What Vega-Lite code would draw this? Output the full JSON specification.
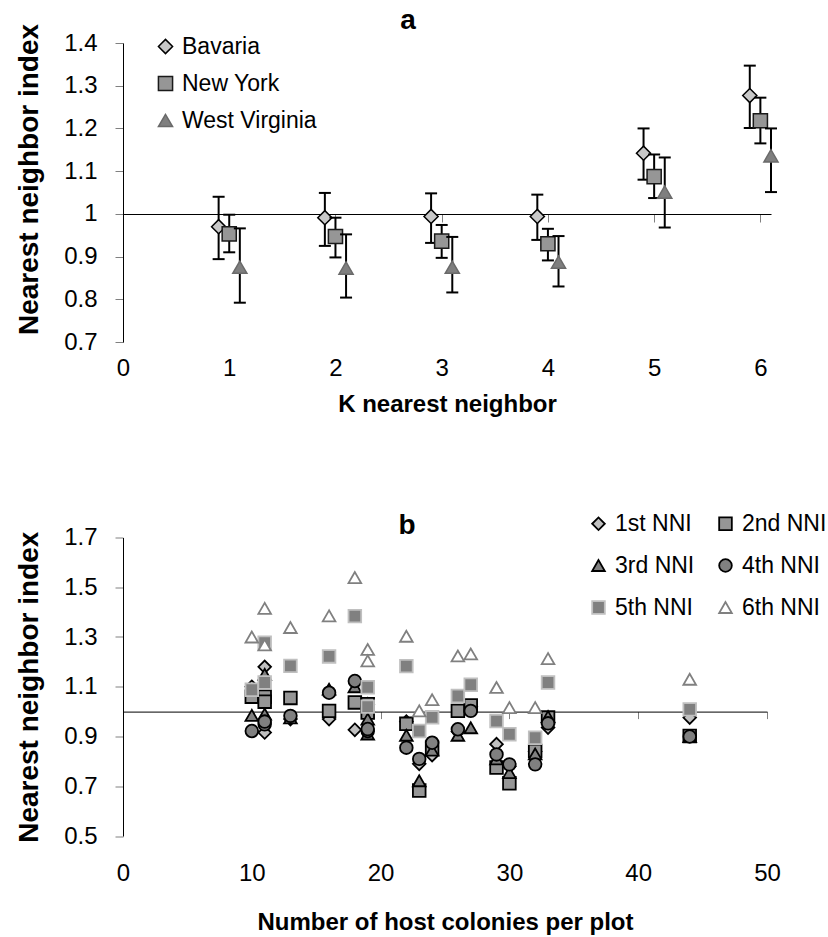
{
 "$schema": "https://vega.github.io/schema/vega-lite/v6.json",
 "background": "white",
 "padding": {"left": 15, "top": 6, "right": 0, "bottom": 0},
 "config": {
  "font": "Liberation Sans",
  "view": {"stroke": null},
  "axis": {"grid": false, "labelFont": "Liberation Sans", "titleFont": "Liberation Sans", "labelColor": "black", "titleColor": "black", "domainColor": "black", "tickColor": "#808080", "labelFontSize": 24, "titleFontSize": 24, "titleFontWeight": "bold", "labelFlush": false, "labelOverlap": false},
  "legend": {"labelFont": "Liberation Sans", "labelColor": "black"},
  "title": {"font": "Liberation Sans", "fontWeight": "bold", "fontSize": 28, "color": "black"}
 },
 "resolve": {"scale": {"shape": "independent", "fill": "independent", "stroke": "independent"}, "legend": {"shape": "independent", "fill": "independent", "stroke": "independent"}},
 "datasets": {
  "knn": [
   {"k": 1, "site": "Bavaria", "nni": 0.970, "lo": 0.894, "hi": 1.040},
   {"k": 1, "site": "New York", "nni": 0.953, "lo": 0.910, "hi": 0.998},
   {"k": 1, "site": "West Virginia", "nni": 0.875, "lo": 0.792, "hi": 0.966},
   {"k": 2, "site": "Bavaria", "nni": 0.991, "lo": 0.925, "hi": 1.049},
   {"k": 2, "site": "New York", "nni": 0.947, "lo": 0.898, "hi": 0.991},
   {"k": 2, "site": "West Virginia", "nni": 0.873, "lo": 0.804, "hi": 0.952},
   {"k": 3, "site": "Bavaria", "nni": 0.994, "lo": 0.932, "hi": 1.048},
   {"k": 3, "site": "New York", "nni": 0.936, "lo": 0.897, "hi": 0.974},
   {"k": 3, "site": "West Virginia", "nni": 0.875, "lo": 0.816, "hi": 0.946},
   {"k": 4, "site": "Bavaria", "nni": 0.994, "lo": 0.939, "hi": 1.045},
   {"k": 4, "site": "New York", "nni": 0.930, "lo": 0.891, "hi": 0.965},
   {"k": 4, "site": "West Virginia", "nni": 0.887, "lo": 0.830, "hi": 0.948},
   {"k": 5, "site": "Bavaria", "nni": 1.142, "lo": 1.080, "hi": 1.200},
   {"k": 5, "site": "New York", "nni": 1.087, "lo": 1.037, "hi": 1.139},
   {"k": 5, "site": "West Virginia", "nni": 1.051, "lo": 0.968, "hi": 1.132},
   {"k": 6, "site": "Bavaria", "nni": 1.277, "lo": 1.201, "hi": 1.347},
   {"k": 6, "site": "New York", "nni": 1.218, "lo": 1.165, "hi": 1.272},
   {"k": 6, "site": "West Virginia", "nni": 1.136, "lo": 1.051, "hi": 1.200}
  ],
  "plots": [
   {"colonies": 10, "order": "1st NNI", "nni": 1.10},
   {"colonies": 11, "order": "1st NNI", "nni": 1.18},
   {"colonies": 11, "order": "1st NNI", "nni": 0.916},
   {"colonies": 13, "order": "1st NNI", "nni": 0.97},
   {"colonies": 16, "order": "1st NNI", "nni": 0.97},
   {"colonies": 18, "order": "1st NNI", "nni": 0.927},
   {"colonies": 19, "order": "1st NNI", "nni": 1.03},
   {"colonies": 19, "order": "1st NNI", "nni": 1.0},
   {"colonies": 22, "order": "1st NNI", "nni": 0.96},
   {"colonies": 23, "order": "1st NNI", "nni": 0.79},
   {"colonies": 24, "order": "1st NNI", "nni": 0.825},
   {"colonies": 26, "order": "1st NNI", "nni": 0.92},
   {"colonies": 27, "order": "1st NNI", "nni": 1.02},
   {"colonies": 29, "order": "1st NNI", "nni": 0.869},
   {"colonies": 30, "order": "1st NNI", "nni": 0.78},
   {"colonies": 32, "order": "1st NNI", "nni": 0.84},
   {"colonies": 33, "order": "1st NNI", "nni": 0.936},
   {"colonies": 44, "order": "1st NNI", "nni": 0.976},
   {"colonies": 10, "order": "2nd NNI", "nni": 1.06},
   {"colonies": 11, "order": "2nd NNI", "nni": 1.06},
   {"colonies": 11, "order": "2nd NNI", "nni": 1.04},
   {"colonies": 13, "order": "2nd NNI", "nni": 1.055},
   {"colonies": 16, "order": "2nd NNI", "nni": 1.003},
   {"colonies": 18, "order": "2nd NNI", "nni": 1.037},
   {"colonies": 19, "order": "2nd NNI", "nni": 0.996},
   {"colonies": 19, "order": "2nd NNI", "nni": 1.03},
   {"colonies": 22, "order": "2nd NNI", "nni": 0.951},
   {"colonies": 23, "order": "2nd NNI", "nni": 0.683},
   {"colonies": 24, "order": "2nd NNI", "nni": 0.855},
   {"colonies": 26, "order": "2nd NNI", "nni": 1.003},
   {"colonies": 27, "order": "2nd NNI", "nni": 1.025},
   {"colonies": 29, "order": "2nd NNI", "nni": 0.775},
   {"colonies": 30, "order": "2nd NNI", "nni": 0.712},
   {"colonies": 32, "order": "2nd NNI", "nni": 0.842},
   {"colonies": 33, "order": "2nd NNI", "nni": 0.976},
   {"colonies": 44, "order": "2nd NNI", "nni": 0.902},
   {"colonies": 10, "order": "3rd NNI", "nni": 0.985},
   {"colonies": 11, "order": "3rd NNI", "nni": 1.15},
   {"colonies": 11, "order": "3rd NNI", "nni": 0.99},
   {"colonies": 13, "order": "3rd NNI", "nni": 0.975},
   {"colonies": 16, "order": "3rd NNI", "nni": 1.09},
   {"colonies": 18, "order": "3rd NNI", "nni": 1.10},
   {"colonies": 19, "order": "3rd NNI", "nni": 0.97},
   {"colonies": 19, "order": "3rd NNI", "nni": 0.91},
   {"colonies": 22, "order": "3rd NNI", "nni": 0.905},
   {"colonies": 23, "order": "3rd NNI", "nni": 0.722},
   {"colonies": 24, "order": "3rd NNI", "nni": 0.845},
   {"colonies": 26, "order": "3rd NNI", "nni": 0.905},
   {"colonies": 27, "order": "3rd NNI", "nni": 0.935},
   {"colonies": 29, "order": "3rd NNI", "nni": 0.81},
   {"colonies": 30, "order": "3rd NNI", "nni": 0.755},
   {"colonies": 32, "order": "3rd NNI", "nni": 0.83},
   {"colonies": 33, "order": "3rd NNI", "nni": 0.98},
   {"colonies": 44, "order": "3rd NNI", "nni": 0.9},
   {"colonies": 10, "order": "4th NNI", "nni": 0.922},
   {"colonies": 11, "order": "4th NNI", "nni": 0.949},
   {"colonies": 11, "order": "4th NNI", "nni": 0.96},
   {"colonies": 13, "order": "4th NNI", "nni": 0.983},
   {"colonies": 16, "order": "4th NNI", "nni": 1.076},
   {"colonies": 18, "order": "4th NNI", "nni": 1.123},
   {"colonies": 19, "order": "4th NNI", "nni": 0.922},
   {"colonies": 19, "order": "4th NNI", "nni": 0.93},
   {"colonies": 22, "order": "4th NNI", "nni": 0.855},
   {"colonies": 23, "order": "4th NNI", "nni": 0.81},
   {"colonies": 24, "order": "4th NNI", "nni": 0.875},
   {"colonies": 26, "order": "4th NNI", "nni": 0.929},
   {"colonies": 27, "order": "4th NNI", "nni": 1.003},
   {"colonies": 29, "order": "4th NNI", "nni": 0.828},
   {"colonies": 30, "order": "4th NNI", "nni": 0.788},
   {"colonies": 32, "order": "4th NNI", "nni": 0.788},
   {"colonies": 33, "order": "4th NNI", "nni": 0.953},
   {"colonies": 44, "order": "4th NNI", "nni": 0.90},
   {"colonies": 10, "order": "5th NNI", "nni": 1.088},
   {"colonies": 11, "order": "5th NNI", "nni": 1.277},
   {"colonies": 11, "order": "5th NNI", "nni": 1.117},
   {"colonies": 13, "order": "5th NNI", "nni": 1.184},
   {"colonies": 16, "order": "5th NNI", "nni": 1.222},
   {"colonies": 18, "order": "5th NNI", "nni": 1.384},
   {"colonies": 19, "order": "5th NNI", "nni": 1.098},
   {"colonies": 19, "order": "5th NNI", "nni": 1.02},
   {"colonies": 22, "order": "5th NNI", "nni": 1.183},
   {"colonies": 23, "order": "5th NNI", "nni": 0.922},
   {"colonies": 24, "order": "5th NNI", "nni": 0.977},
   {"colonies": 26, "order": "5th NNI", "nni": 1.063},
   {"colonies": 27, "order": "5th NNI", "nni": 1.108},
   {"colonies": 29, "order": "5th NNI", "nni": 0.962},
   {"colonies": 30, "order": "5th NNI", "nni": 0.909},
   {"colonies": 32, "order": "5th NNI", "nni": 0.895},
   {"colonies": 33, "order": "5th NNI", "nni": 1.117},
   {"colonies": 44, "order": "5th NNI", "nni": 1.009},
   {"colonies": 10, "order": "6th NNI", "nni": 1.30},
   {"colonies": 11, "order": "6th NNI", "nni": 1.415},
   {"colonies": 11, "order": "6th NNI", "nni": 1.268},
   {"colonies": 13, "order": "6th NNI", "nni": 1.338},
   {"colonies": 16, "order": "6th NNI", "nni": 1.385},
   {"colonies": 18, "order": "6th NNI", "nni": 1.539},
   {"colonies": 19, "order": "6th NNI", "nni": 1.25},
   {"colonies": 19, "order": "6th NNI", "nni": 1.204},
   {"colonies": 22, "order": "6th NNI", "nni": 1.303},
   {"colonies": 23, "order": "6th NNI", "nni": 1.003},
   {"colonies": 24, "order": "6th NNI", "nni": 1.048},
   {"colonies": 26, "order": "6th NNI", "nni": 1.224},
   {"colonies": 27, "order": "6th NNI", "nni": 1.232},
   {"colonies": 29, "order": "6th NNI", "nni": 1.097},
   {"colonies": 30, "order": "6th NNI", "nni": 1.016},
   {"colonies": 32, "order": "6th NNI", "nni": 1.016},
   {"colonies": 33, "order": "6th NNI", "nni": 1.213},
   {"colonies": 44, "order": "6th NNI", "nni": 1.13}
  ]
 },
 "spacing": 95.5,
 "vconcat": [
  {
   "width": 648,
   "height": 299,
   "title": {"text": "a", "frame": "group", "anchor": "middle", "dx": -39, "offset": -11.3},
   "data": {"name": "knn"},
   "encoding": {
    "x": {"field": "k", "type": "quantitative", "scale": {"domain": [0, 6.1], "nice": false, "zero": false},
     "axis": {"values": [0, 1, 2, 3, 4, 5, 6], "offset": -128, "tickSize": 8, "labelPadding": 134, "title": "K nearest neighbor", "titlePadding": 12}}
   },
   "layer": [
    {
     "transform": [{"filter": "datum.site === 'Bavaria'"}],
     "layer": [
      {"mark": {"type": "rule", "xOffset": -10.6, "strokeWidth": 2, "color": "black"},
       "encoding": {"y": {"field": "lo", "type": "quantitative", "title": "Nearest neighbor index", "scale": {"domain": [0.7, 1.4], "nice": false, "zero": false},
         "axis": {"values": [0.7, 0.8, 0.9, 1.0, 1.1, 1.2, 1.3, 1.4], "format": "~g", "tickSize": 8, "labelPadding": 18, "title": "Nearest neighbor index", "titleFontSize": 28, "titlePadding": 20, "titleY": 136}},
        "y2": {"field": "hi"}}},
      {"mark": {"type": "tick", "orient": "horizontal", "xOffset": -10.6, "size": 12, "thickness": 2, "color": "black", "opacity": 1},
       "encoding": {"y": {"field": "lo", "type": "quantitative", "title": "Nearest neighbor index"}}},
      {"mark": {"type": "tick", "orient": "horizontal", "xOffset": -10.6, "size": 12, "thickness": 2, "color": "black", "opacity": 1},
       "encoding": {"y": {"field": "hi", "type": "quantitative", "title": "Nearest neighbor index"}}},
      {"mark": {"type": "point", "filled": true, "size": 200, "strokeWidth": 1.5, "opacity": 1, "xOffset": -10.6},
       "encoding": {"y": {"field": "nni", "type": "quantitative", "title": "Nearest neighbor index"},
        "shape": {"field": "site", "type": "nominal", "scale": {"domain": ["Bavaria", "New York", "West Virginia"], "range": ["diamond", "square", "triangle-up"]},
         "legend": {"orient": "none", "legendX": 31, "legendY": -8, "title": null, "labelFontSize": 23, "symbolSize": 200, "symbolStrokeWidth": 1.5, "rowPadding": 13, "labelOffset": 5}},
        "fill": {"field": "site", "type": "nominal", "scale": {"domain": ["Bavaria", "New York", "West Virginia"], "range": ["#c8c8c8", "#969696", "#7f7f7f"]},
         "legend": {"orient": "none", "legendX": 31, "legendY": -8, "title": null, "labelFontSize": 23, "symbolSize": 200, "symbolStrokeWidth": 1.5, "rowPadding": 13, "labelOffset": 5}},
        "stroke": {"field": "site", "type": "nominal", "scale": {"domain": ["Bavaria", "New York", "West Virginia"], "range": ["#000000", "#1a1a1a", "#6a6a6a"]},
         "legend": {"orient": "none", "legendX": 31, "legendY": -8, "title": null, "labelFontSize": 23, "symbolSize": 200, "symbolStrokeWidth": 1.5, "rowPadding": 13, "labelOffset": 5}}}}
     ]
    },
    {
     "transform": [{"filter": "datum.site === 'New York'"}],
     "layer": [
      {"mark": {"type": "rule", "strokeWidth": 2, "color": "black"},
       "encoding": {"y": {"field": "lo", "type": "quantitative", "title": "Nearest neighbor index"}, "y2": {"field": "hi"}}},
      {"mark": {"type": "tick", "orient": "horizontal", "size": 12, "thickness": 2, "color": "black", "opacity": 1},
       "encoding": {"y": {"field": "lo", "type": "quantitative", "title": "Nearest neighbor index"}}},
      {"mark": {"type": "tick", "orient": "horizontal", "size": 12, "thickness": 2, "color": "black", "opacity": 1},
       "encoding": {"y": {"field": "hi", "type": "quantitative", "title": "Nearest neighbor index"}}},
      {"mark": {"type": "point", "filled": true, "size": 200, "strokeWidth": 1.5, "opacity": 1},
       "encoding": {"y": {"field": "nni", "type": "quantitative", "title": "Nearest neighbor index"},
        "shape": {"field": "site", "type": "nominal"},
        "fill": {"field": "site", "type": "nominal"},
        "stroke": {"field": "site", "type": "nominal"}}}
     ]
    },
    {
     "transform": [{"filter": "datum.site === 'West Virginia'"}],
     "layer": [
      {"mark": {"type": "rule", "xOffset": 10.6, "strokeWidth": 2, "color": "black"},
       "encoding": {"y": {"field": "lo", "type": "quantitative", "title": "Nearest neighbor index"}, "y2": {"field": "hi"}}},
      {"mark": {"type": "tick", "orient": "horizontal", "xOffset": 10.6, "size": 12, "thickness": 2, "color": "black", "opacity": 1},
       "encoding": {"y": {"field": "lo", "type": "quantitative", "title": "Nearest neighbor index"}}},
      {"mark": {"type": "tick", "orient": "horizontal", "xOffset": 10.6, "size": 12, "thickness": 2, "color": "black", "opacity": 1},
       "encoding": {"y": {"field": "hi", "type": "quantitative", "title": "Nearest neighbor index"}}},
      {"mark": {"type": "point", "filled": true, "size": 200, "strokeWidth": 1.5, "opacity": 1, "xOffset": 10.6},
       "encoding": {"y": {"field": "nni", "type": "quantitative", "title": "Nearest neighbor index"},
        "shape": {"field": "site", "type": "nominal"},
        "fill": {"field": "site", "type": "nominal"},
        "stroke": {"field": "site", "type": "nominal"}}}
     ]
    }
   ]
  },
  {
   "width": 644,
   "height": 298.5,
   "title": {"text": "b", "frame": "group", "anchor": "middle", "dx": -38, "offset": -27.5},
   "data": {"name": "plots"},
   "mark": {"type": "point", "filled": true, "size": 160, "strokeWidth": 1.8, "opacity": 1},
   "encoding": {
    "x": {"field": "colonies", "type": "quantitative", "scale": {"domain": [0, 50], "nice": false},
     "axis": {"values": [0, 10, 20, 30, 40, 50], "offset": -124.4, "tickSize": 7, "labelPadding": 143, "title": "Number of host colonies per plot", "titlePadding": 25}},
    "y": {"field": "nni", "type": "quantitative", "scale": {"domain": [0.5, 1.7], "nice": false, "zero": false},
     "axis": {"values": [0.5, 0.7, 0.9, 1.1, 1.3, 1.5, 1.7], "format": "~g", "tickSize": 8, "labelPadding": 18, "title": "Nearest neighbor index", "titleFontSize": 28, "titlePadding": 20}},
    "shape": {"field": "order", "type": "nominal",
     "scale": {"domain": ["1st NNI", "2nd NNI", "3rd NNI", "4th NNI", "5th NNI", "6th NNI"], "range": ["diamond", "square", "triangle-up", "circle", "square", "triangle-up"]},
     "legend": {"orient": "none", "legendX": 464, "legendY": -25.5, "direction": "horizontal", "columns": 2, "columnPadding": 19, "rowPadding": 18, "title": null, "labelFontSize": 23, "symbolSize": 160, "symbolStrokeWidth": 1.8, "labelOffset": 5}},
    "fill": {"field": "order", "type": "nominal",
     "scale": {"domain": ["1st NNI", "2nd NNI", "3rd NNI", "4th NNI", "5th NNI", "6th NNI"], "range": ["#c0c0c0", "#969696", "#808080", "#808080", "#808080", "#ffffff"]},
     "legend": {"orient": "none", "legendX": 464, "legendY": -25.5, "direction": "horizontal", "columns": 2, "columnPadding": 19, "rowPadding": 18, "title": null, "labelFontSize": 23, "symbolSize": 160, "symbolStrokeWidth": 1.8, "labelOffset": 5}},
    "stroke": {"field": "order", "type": "nominal",
     "scale": {"domain": ["1st NNI", "2nd NNI", "3rd NNI", "4th NNI", "5th NNI", "6th NNI"], "range": ["#000000", "#000000", "#000000", "#000000", "#c0c0c0", "#808080"]},
     "legend": {"orient": "none", "legendX": 464, "legendY": -25.5, "direction": "horizontal", "columns": 2, "columnPadding": 19, "rowPadding": 18, "title": null, "labelFontSize": 23, "symbolSize": 160, "symbolStrokeWidth": 1.8, "labelOffset": 5}}
   }
  }
 ]
}
